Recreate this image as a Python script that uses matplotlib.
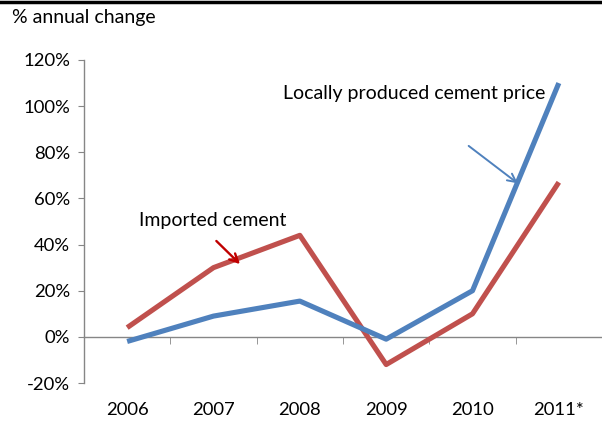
import matplotlib
matplotlib.use("Agg")
import matplotlib.pyplot as plt
import numpy as np
from matplotlib.lines import Line2D

years = ["2006", "2007", "2008", "2009", "2010", "2011*"]
local_price = [-2, 9, 15.5, -1, 20, 110]
imported = [4, 30, 44, -12, 10, 67]
yticks = [-20, 0, 20, 40, 60, 80, 100, 120]

plt.rcParams['font.family'] = ['Lato', 'DejaVu Sans']

fig = plt.figure(figsize=(6.02, 4.23), dpi=100)
ax = fig.add_axes([84/602, 1-383/423, 1-84/602, (383-60)/423])

x = np.arange(len(years))
blue = '#4F81BD'
red = '#C0504D'
ax.plot(x, imported, color=red, lw=3.7, solid_capstyle='butt', zorder=3)
ax.plot(x, local_price, color=blue, lw=3.7, solid_capstyle='butt', zorder=4)

ax.set_xlim(-0.5, len(years) - 0.5)
ax.set_ylim(-20, 120)

gray = '#868686'
for s in ['top', 'right']:
    ax.spines[s].set_visible(False)
ax.spines['left'].set_color(gray)
ax.spines['bottom'].set_color(gray)
ax.spines['bottom'].set_position(('data', 0))
ax.spines['left'].set_linewidth(1.0)
ax.spines['bottom'].set_linewidth(1.0)

ax.set_yticks(yticks)
ax.set_yticklabels([f"{v}%" for v in yticks], fontsize=13.3)
ax.tick_params(axis='y', length=4, color=gray, pad=6)

ax.set_xticks(x)
ax.set_xticklabels(years, fontsize=13.3)
ax.set_xticks(np.arange(-0.5, len(years)), minor=True)
ax.tick_params(axis='x', which='major', length=0, pad=47)
ax.tick_params(axis='x', which='minor', length=5, color=gray, direction='out')

ax.text(1.81, 105.6, "Locally produced cement price", fontsize=14, ha='left', va='center')
ax.annotate("", xy=(4.55, 65.8), xytext=(3.93, 83.5),
            arrowprops=dict(arrowstyle='->', color=blue, lw=1.4, mutation_scale=15))
ax.text(0.99, 50.5, "Imported cement", fontsize=14, ha='center', va='center')
ax.annotate("", xy=(1.33, 30.7), xytext=(1.01, 42.4),
            arrowprops=dict(arrowstyle='->', color='#C00000', lw=1.7, mutation_scale=15))

fig.text(12/602, 1-17/423, "% annual change", fontsize=14, ha='left', va='center')
fig.add_artist(Line2D([0, 1], [1-2/423, 1-2/423], color='black', lw=2.5, transform=fig.transFigure))

fig.savefig("out.png", dpi=100)
